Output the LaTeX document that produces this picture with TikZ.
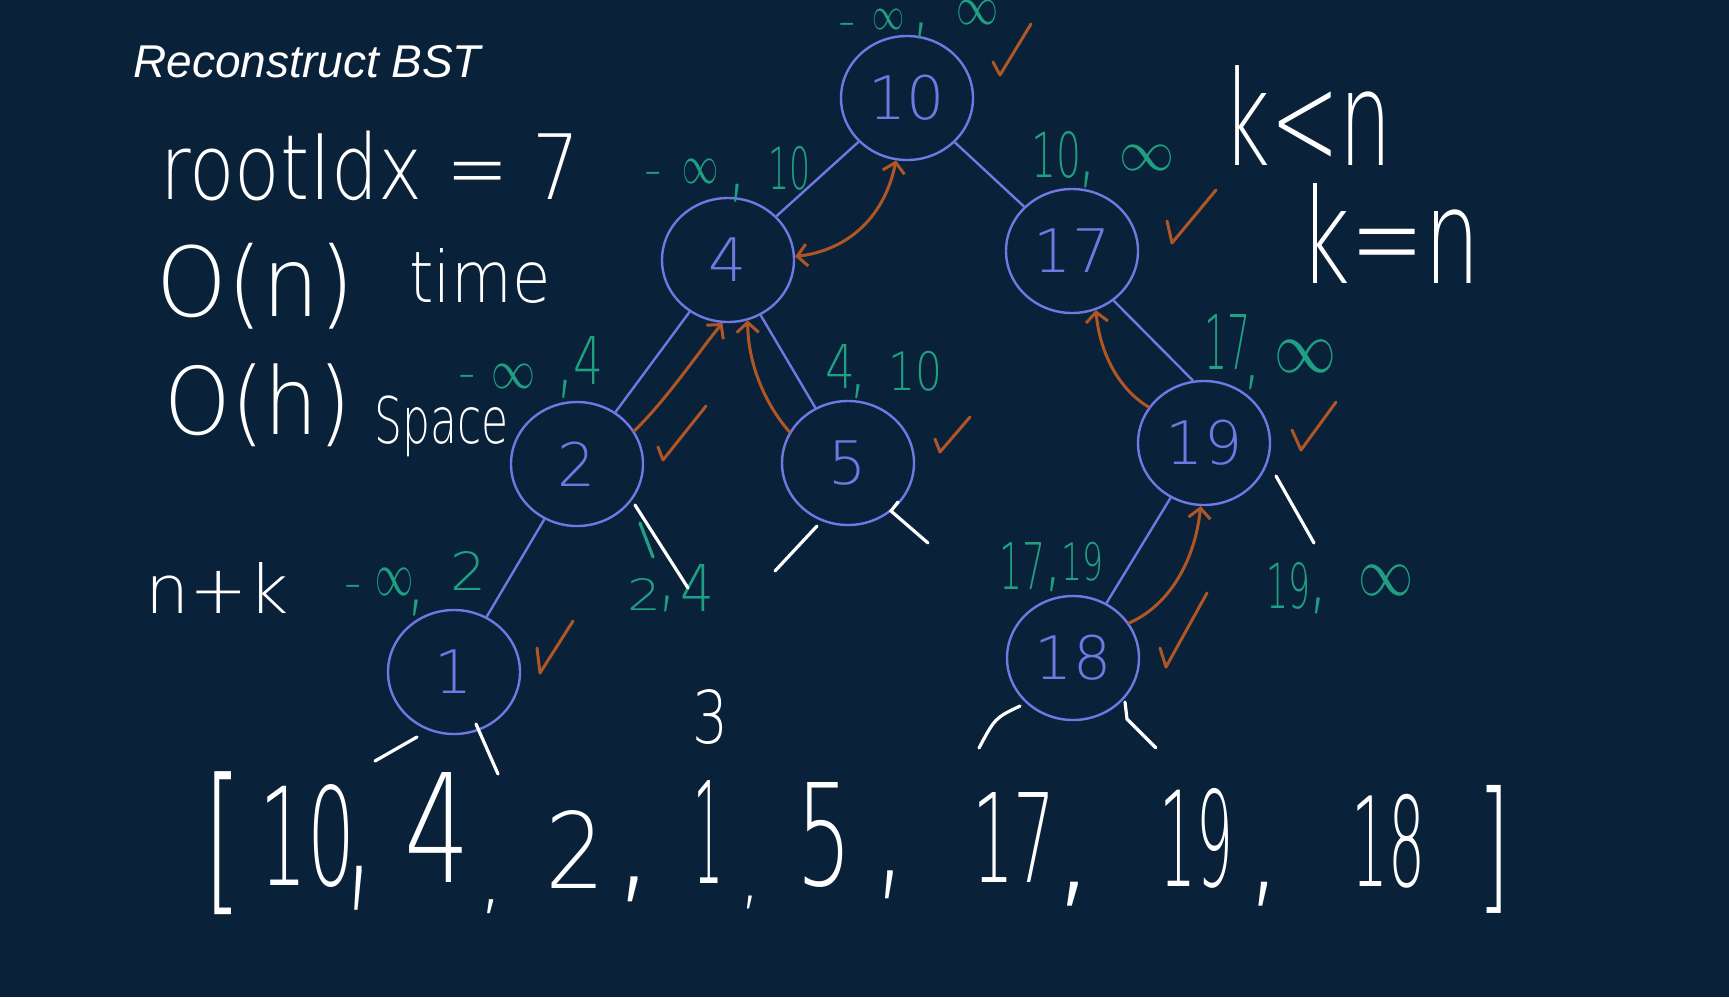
\documentclass[tikz,border=0pt]{standalone}
\usepackage{fontspec}
\usepackage{graphicx}
\setmainfont{Liberation Sans}
\newfontfamily\hand{DejaVuSans-ExtraLight.ttf}
\usetikzlibrary{arrows.meta,shapes.geometric}
\definecolor{bgnavy}{RGB}{10,33,58}
\definecolor{nodeblue}{RGB}{112,120,226}
\definecolor{gteal}{RGB}{32,160,130}
\definecolor{rust}{RGB}{176,86,36}
\newdimen\pxu \pxu=0.5pt
\newcommand\fitbox[3]{\resizebox*{#1\pxu}{#2\pxu}{\hand #3}}
\newcommand\hyph{{\hand\fontsize{24}{24}\selectfont -}}
\tikzset{
  barb/.tip={Straight Barb[length=5pt,width=11pt,line width=1.5pt]},
  bst/.style={ellipse, draw=nodeblue, line width=1.2pt, minimum width=66pt, minimum height=62pt,
              inner sep=0pt, text=nodeblue, font=\hand\fontsize{30}{30}\selectfont},
  treeline/.style={draw=nodeblue, line width=1.2pt},
  hw/.style={inner sep=0pt, text=white},
  gl/.style={inner sep=0pt, text=gteal},
  oline/.style={draw=rust, line width=1.5pt, line cap=round},
  oarrow/.style={oline, -barb},
  checkmk/.style={draw=rust, line width=1.5pt, line cap=round, line join=round},
  nullmark/.style={draw=white, line width=1.6pt, line cap=round},
}
\begin{document}
\begin{tikzpicture}[x=0.5pt,y=-0.5pt]
\useasboundingbox (0,0) rectangle (1729,997);
\fill[bgnavy] (0,0) rectangle (1729,997);

% title
\node[anchor=base west, inner sep=0pt, text=white, font=\itshape\fontsize{23}{23}\selectfont] (title) at (133,77) {Reconstruct BST};

% white handwriting
\node[hw] (t1) at (370,166) {\fitbox{419}{70}{rootIdx = 7}};
\node[hw] (t2) at (256,286) {\fitbox{198}{86}{O(n)}};
\node[hw] (t3) at (480,276) {\fitbox{141}{55}{time}};
\node[hw] (t4) at (258,405) {\fitbox{186}{83}{O(h)}};
\node[hw] (t5) at (442,426) {\fitbox{134}{61}{Space}};
\node[hw] (t6) at (217,588) {\fitbox{143}{51}{n+k}};
\node[hw] (t7) at (1307,115) {\fitbox{170}{100}{k<n}};
\node[hw] (t8) at (1390,233) {\fitbox{181}{100}{k=n}};
\node[hw] (t9) at (710,717) {\fitbox{36}{55}{3}};

% array
\node[hw] (b1) at (223,843) {\fitbox{39}{143}{[}};
\node[hw] (a1) at (308,836) {\fitbox{96}{103}{10}};
\node[hw] (c1) at (360,888) {\fitbox{34}{44}{,}};
\node[hw] (a2) at (438,827) {\fitbox{66}{110}{4}};
\node[hw] (c2) at (491,907) {\fitbox{28}{14}{,}};
\node[hw] (a3) at (575,849) {\fitbox{60}{78}{2}};
\node[hw] (c3) at (634,889) {\fitbox{46}{25}{,}};
\node[hw] (a4) at (708,832) {\fitbox{30}{103}{1}};
\node[hw] (c4) at (750,902) {\fitbox{22}{13}{,}};
\node[hw] (a5) at (824,835) {\fitbox{56}{105}{5}};
\node[hw] (c5) at (890,885) {\fitbox{36}{28}{,}};
\node[hw] (a6) at (1014,837) {\fitbox{84}{90}{17}};
\node[hw] (c6) at (1074,894) {\fitbox{50}{24}{,}};
\node[hw] (a7) at (1196,838) {\fitbox{74}{100}{19}};
\node[hw] (c7) at (1264,894) {\fitbox{40}{24}{,}};
\node[hw] (a8) at (1388,841) {\fitbox{74}{94}{18}};
\node[hw] (b2) at (1494,849) {\fitbox{33}{128}{]}};

% tree nodes
\node[bst] (n10) at (907,98) {10};
\node[bst] (n4) at (728,260) {4};
\node[bst] (n17) at (1072,251) {17};
\node[bst] (n2) at (577,464) {2};
\node[bst] (n5) at (848,463) {5};
\node[bst] (n19) at (1204,443) {19};
\node[bst] (n1) at (454,672) {1};
\node[bst] (n18) at (1073,658) {18};

% tree edges
\draw[treeline] (n10) -- (n4);
\draw[treeline] (n10) -- (n17);
\draw[treeline] (n4) -- (n2);
\draw[treeline] (n4) -- (n5);
\draw[treeline] (n17.-50) -- (n19.100);
\draw[treeline] (n2) -- (n1);
\draw[treeline] (n19) -- (n18);

% green bound labels
\node[gl] (l10a) at (847,30) {\hyph};
\node[gl] (l10b) at (888,19) {\fitbox{32}{20}{$\infty$}};
\node[gl] (l10c) at (921,31) {\fitbox{20}{16}{,}};
\node[gl] (l10d) at (977,12) {\fitbox{42}{24}{$\infty$}};

\node[gl] (l4a) at (653,179) {\hyph};
\node[gl] (l4b) at (700,171) {\fitbox{36}{24}{$\infty$}};
\node[gl] (l4c) at (737,193) {\fitbox{20}{18}{,}};
\node[gl] (l4d) at (789,168) {\fitbox{42}{44}{10}};

\node[gl] (l17a) at (1056,155) {\fitbox{50}{47}{10}};
\node[gl] (l17b) at (1087,180) {\fitbox{20}{16}{,}};
\node[gl] (l17c) at (1147,158) {\fitbox{55}{25}{$\infty$}};

\node[gl] (l2a) at (467,382) {\hyph};
\node[gl] (l2b) at (513,376) {\fitbox{44}{24}{$\infty$}};
\node[gl] (l2c) at (565,389) {\fitbox{20}{18}{,}};
\node[gl] (l2d) at (588,360) {\fitbox{30}{48}{4}};

\node[gl] (l5a) at (840,366) {\fitbox{30}{44}{4}};
\node[gl] (l5b) at (858,392) {\fitbox{20}{14}{,}};
\node[gl] (l5c) at (915,371) {\fitbox{54}{40}{10}};

\node[gl] (l19a) at (1227,342) {\fitbox{46}{55}{17}};
\node[gl] (l19b) at (1252,383) {\fitbox{20}{14}{,}};
\node[gl] (l19c) at (1305,356) {\fitbox{62}{32}{$\infty$}};

\node[gl] (l1a) at (353,592) {\hyph};
\node[gl] (l1b) at (394,582) {\fitbox{38}{27}{$\infty$}};
\node[gl] (l1c) at (416,608) {\fitbox{22}{16}{,}};
\node[gl] (l1d) at (468,571) {\fitbox{36}{39}{2}};

\node[gl] (l24a) at (644,594) {\fitbox{34}{32}{2}};
\node[gl] (l24b) at (667,604) {\fitbox{20}{16}{,}};
\node[gl] (l24c) at (697,588) {\fitbox{34}{47}{4}};
\draw[draw=gteal, line width=1.6pt, line cap=round] (640,523) -- (653,557);

\node[gl] (l18a) at (1022,566) {\fitbox{46}{47}{17}};
\node[gl] (l18b) at (1053,585) {\fitbox{20}{14}{,}};
\node[gl] (l18c) at (1082,562) {\fitbox{42}{39}{19}};

\node[gl] (lr19a) at (1288,586) {\fitbox{44}{47}{19}};
\node[gl] (lr19b) at (1318,606) {\fitbox{22}{16}{,}};
\node[gl] (lr19c) at (1386,580) {\fitbox{55}{30}{$\infty$}};

% orange return arrows
\draw[oline, barb-barb] (n4.3) .. controls (850,250) and (885,215) .. (n10.-100);
\draw[oarrow] (n2.30) .. controls (668,398) and (700,350) .. (n4.-95);
\draw[oarrow] (n5.152) .. controls (770,410) and (748,370) .. (n4.-72);
\draw[oarrow] (n19.147) .. controls (1120,390) and (1100,355) .. (n17.-68);
\draw[oarrow] (n18.32) .. controls (1170,605) and (1195,560) .. (n19.-93);

% check marks
\draw[checkmk] (993,62) -- (1000,75) -- (1031,24);
\draw[checkmk] (1167,221) -- (1172,243) -- (1216,190);
\draw[checkmk] (658,447) -- (663,460) -- (706,406);
\draw[checkmk] (935,439) -- (940,452) -- (970,417);
\draw[checkmk] (1292,430) -- (1301,450) -- (1336,402);
\draw[checkmk] (537,648) -- (540,673) -- (573,621);
\draw[checkmk] (1160,648) -- (1166,667) -- (1207,593);

% null child marks
\draw[nullmark] (417,737) -- (375,761);
\draw[nullmark] (476,724) -- (498,774);
\draw[nullmark] (635,505) -- (688,588);
\draw[nullmark] (817,526) -- (775,571);
\draw[nullmark] (898,502) -- (891,511) -- (928,543);
\draw[nullmark] (1276,476) -- (1314,543);
\draw[nullmark] (1020,706) .. controls (995,718) .. (979,748);
\draw[nullmark] (1125,702) -- (1127,719) -- (1156,748);
\end{tikzpicture}
\end{document}
